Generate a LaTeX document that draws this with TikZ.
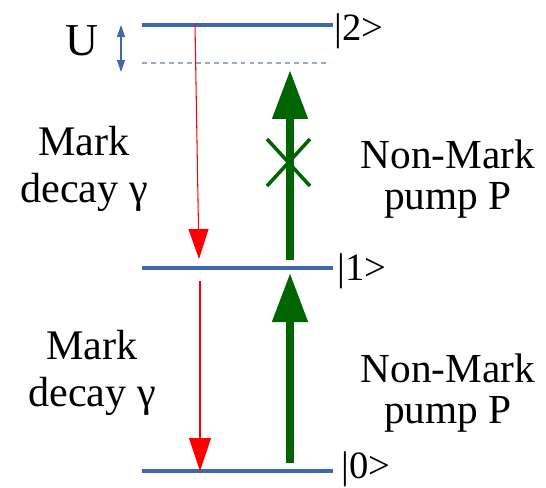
\documentclass[tikz,border=0pt]{standalone}
\usepackage{fontspec}
\setmainfont{Liberation Serif}
\usetikzlibrary{arrows.meta}
\definecolor{levelblue}{HTML}{3F69AC}
\definecolor{dashblue}{HTML}{8FAADC}
\definecolor{pumpgreen}{HTML}{006400}

\begin{document}
\begin{tikzpicture}[x=0.02cm, y=-0.02cm,
    level/.style={line width=2.3pt, levelblue},
    ket/.style={font=\fontsize{22}{22}\selectfont, anchor=base west, inner sep=0pt},
    decay/.style={red, line width=0.6pt},
    pump/.style={pumpgreen, line width=4.5pt, -{Triangle[length=0.98cm, width=0.68cm]}},
    marklbl/.style={font=\fontsize{24}{26.5}\selectfont, align=center, anchor=base, inner sep=0pt},
    pumplbl/.style={font=\fontsize{23.5}{23}\selectfont, align=center, anchor=base, inner sep=0pt}]
    \useasboundingbox (0,0) rectangle (546,487);

    % Energy levels
    \foreach \n/\y in {2/25,1/268,0/471} {
        \coordinate (lw\n) at (142,\y);
        \coordinate (le\n) at (333,\y);
        \draw[level] (lw\n) -- (le\n);
    }
    \node[ket] (ket2) at (334,40) {|2>};
    \node[ket] (ket1) at (337,280) {|1>};
    \node[ket] (ket0) at (341,478) {|0>};

    % Shifted level and U
    \coordinate (dw) at (142,63);
    \coordinate (de) at (330,63);
    \draw[dashblue, line width=0.6pt, dash pattern=on 2.8pt off 2.3pt] (dw) -- (de);
    \coordinate (ut) at (121,25);
    \coordinate (ub) at (121,72);
    \draw[levelblue, line width=0.6pt, {Triangle[length=0.24cm, width=0.16cm]}-{Triangle[length=0.24cm, width=0.16cm]}] (ut) -- (ub);
    \node[font=\fontsize{26}{26}\selectfont, anchor=base, inner sep=0pt] (u) at (82,55) {U};

    % Mark decays
    \coordinate (d2) at (195,25);
    \coordinate (d1) at (199,259);
    \coordinate (e1) at (200,281);
    \coordinate (e0) at (200,471);
    \draw[decay, -{Triangle[length=0.6cm, width=0.4cm]}] (d2) -- (d1);
    \draw[decay, -{Triangle[length=0.66cm, width=0.44cm]}] (e1) -- (e0);

    % Non-Mark pumps
    \coordinate (p1) at (290,260);
    \coordinate (p2) at (290,70);
    \coordinate (q0) at (290,463);
    \coordinate (q1) at (290,273);
    \draw[pump] (p1) -- (p2);
    \draw[pump] (q0) -- (q1);

    % Blocked pump
    \draw[pumpgreen, line width=2pt] (267,139) -- (310,186);
    \draw[pumpgreen, line width=2pt] (310,139) -- (267,186);

    % Labels
    \node[marklbl] (mark1) at (84,202) {Mark\\decay γ};
    \node[marklbl] (mark0) at (92,406) {Mark\\decay γ};
    \node[pumplbl] (pump1) at (448,209) {Non-Mark\\pump P};
    \node[pumplbl] (pump0) at (448,423) {Non-Mark\\pump P};

\end{tikzpicture}
\end{document}
